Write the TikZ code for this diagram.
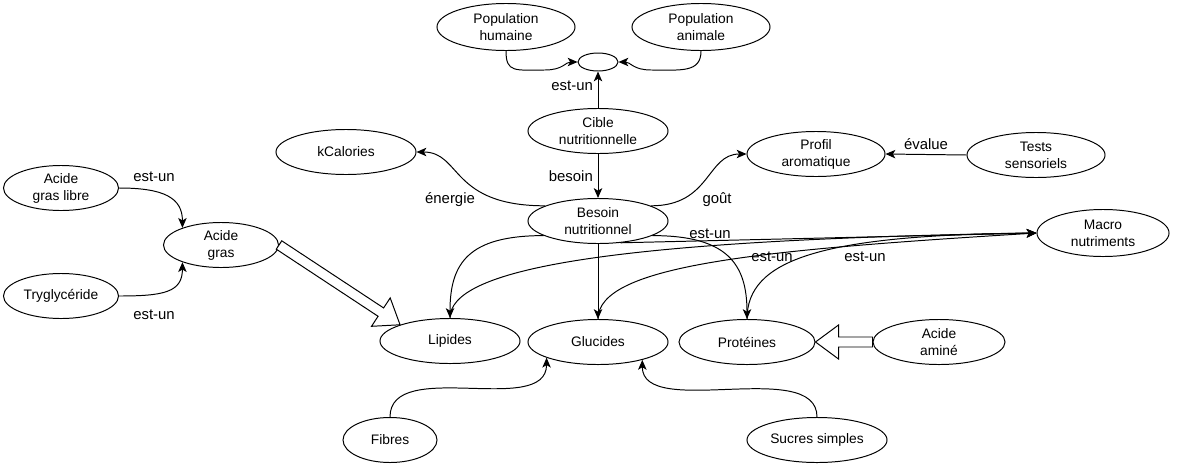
\documentclass[tikz,border=0pt]{standalone}
\usepackage{fontspec}
\setmainfont{Liberation Sans}
\usepackage{tikz}
\usetikzlibrary{shapes.geometric,arrows.meta,calc}

% hollow block arrow from #1 to #2
\newcommand{\fatarrow}[2]{%
  \coordinate (fatbase) at ($(#2)!0.575cm!(#1)$);
  \draw[fill=white] ($(#1)!0.125cm!90:(#2)$) -- ($(fatbase)!0.125cm!90:(#2)$)
    -- ($(fatbase)!0.425cm!90:(#2)$) -- (#2) -- ($(fatbase)!0.425cm!-90:(#2)$)
    -- ($(fatbase)!0.125cm!-90:(#2)$) -- ($(#1)!0.125cm!-90:(#2)$) -- cycle;}

\begin{document}
\begin{tikzpicture}[x=0.025cm,y=-0.025cm,line width=0.7pt,
    every node/.style={font=\fontsize{9.8}{12}\selectfont},
    concept/.style={ellipse,draw,align=center,inner sep=0pt,minimum width=3.5cm,minimum height=1.125cm},
    narrow/.style={minimum width=2.875cm},
    lbl/.style={font=\fontsize{10.6}{12}\selectfont},
    link/.style={-{Stealth[length=7pt,width=6pt,inset=1.8pt]}}]
  \useasboundingbox (0,0) rectangle (1200,467);

  \node[concept,minimum width=3.45cm,minimum height=1.175cm] (pophum) at (506,27) {Population\\humaine};
  \node[concept,minimum width=3.45cm,minimum height=1.175cm] (popani) at (701,27) {Population\\animale};
  \node[concept,minimum width=1cm,minimum height=0.45cm] (pop) at (598,62) {};
  \node[concept] (cible) at (598,131) {Cible\\nutritionnelle};
  \node[concept] (besoin) at (598,221) {Besoin\\nutritionnel};
  \node[concept] (kcal) at (346,152) {kCalories};
  \node[concept,minimum width=3.45cm] (profil) at (816,154) {Profil\\aromatique};
  \node[concept,minimum width=3.45cm] (tests) at (1036,155) {Tests\\sensoriels};
  \node[concept,narrow] (glibre) at (61,188) {Acide\\gras libre};
  \node[concept,narrow] (agras) at (221,245) {Acide\\gras};
  \node[concept,narrow] (trygly) at (61,296) {Tryglycéride};
  \node[concept] (lipides) at (450,341) {Lipides};
  \node[concept] (glucides) at (598,342) {Glucides};
  \node[concept,minimum width=3.4cm] (proteines) at (747,342) {Protéines};
  \node[concept,minimum width=3.3cm] (aamine) at (939,342) {Acide\\aminé};
  \node[concept,minimum width=3.3cm,minimum height=1.175cm] (macro) at (1103,233) {Macro\\nutriments};
  \node[concept,minimum width=2.35cm] (fibres) at (390,440) {Fibres};
  \node[concept] (sucres) at (817,440) {Sucres simples};

  % top part
  \draw[link] (pophum.south) .. controls +(0,22) and +(-30,0) .. (545,70) .. controls +(18,0) and +(-12,0) .. (pop.west);
  \draw[link] (popani.south) .. controls +(0,22) and +(30,0) .. (651,70) .. controls +(-18,0) and +(12,0) .. (pop.east);
  \draw[link] (cible.north) -- node[lbl,left,pos=0.62] {est-un} (pop.south);
  \draw[link] (cible.south) -- node[lbl,left] {besoin} (besoin.north);
  \draw[link] (besoin.164) .. controls +(-95,0) and +(45,0) .. (kcal.east);
  \draw[link] (besoin.16) .. controls +(60,0) and +(-40,0) .. (profil.west);
  \draw[link] (tests.west) -- node[lbl,above] {évalue} (profil.east);
  \node[lbl] (lenergie) at (450,200) {énergie};
  \node[lbl] (lgout) at (717,200) {goût};

  % acides gras
  \draw[link] (glibre.east) .. controls +(45,0) and +(0,-30) .. (agras.156);
  \draw[link] (trygly.east) .. controls +(45,0) and +(0,30) .. (agras.204);
  \node[lbl] (lgras1) at (154,177) {est-un};
  \node[lbl] (lgras2) at (154,315) {est-un};
  \fatarrow{agras.east}{lipides.162}

  % macro nutriments
  \draw[link] (besoin.195) .. controls +(-75,0) and +(0,-55) .. (lipides.north);
  \draw[link] (besoin.south) -- (glucides.north);
  \draw[link] (besoin.-15) .. controls +(75,0) and +(0,-55) .. (proteines.north);
  \draw[link] (besoin.-44) -- (macro.west);
  \draw[link] (lipides.north) .. controls (450,270) and (600,240) .. (macro.west);
  \draw[link] (glucides.north) .. controls (598,265) and (760,250) .. (macro.west);
  \draw[link] (proteines.north) .. controls (747,260) and (820,235) .. (macro.west);
  \node[lbl] (lmacro1) at (710,234) {est-un};
  \node[lbl] (lmacro2) at (772,257) {est-un};
  \node[lbl] (lmacro3) at (865,257) {est-un};
  \fatarrow{aamine.west}{proteines.east}

  % glucides
  \draw[link] (fibres.north) .. controls +(0,-60) and +(0,60) .. (glucides.197);
  \draw[link] (sucres.north) .. controls +(0,-60) and +(0,60) .. (glucides.-22);
\end{tikzpicture}
\end{document}
